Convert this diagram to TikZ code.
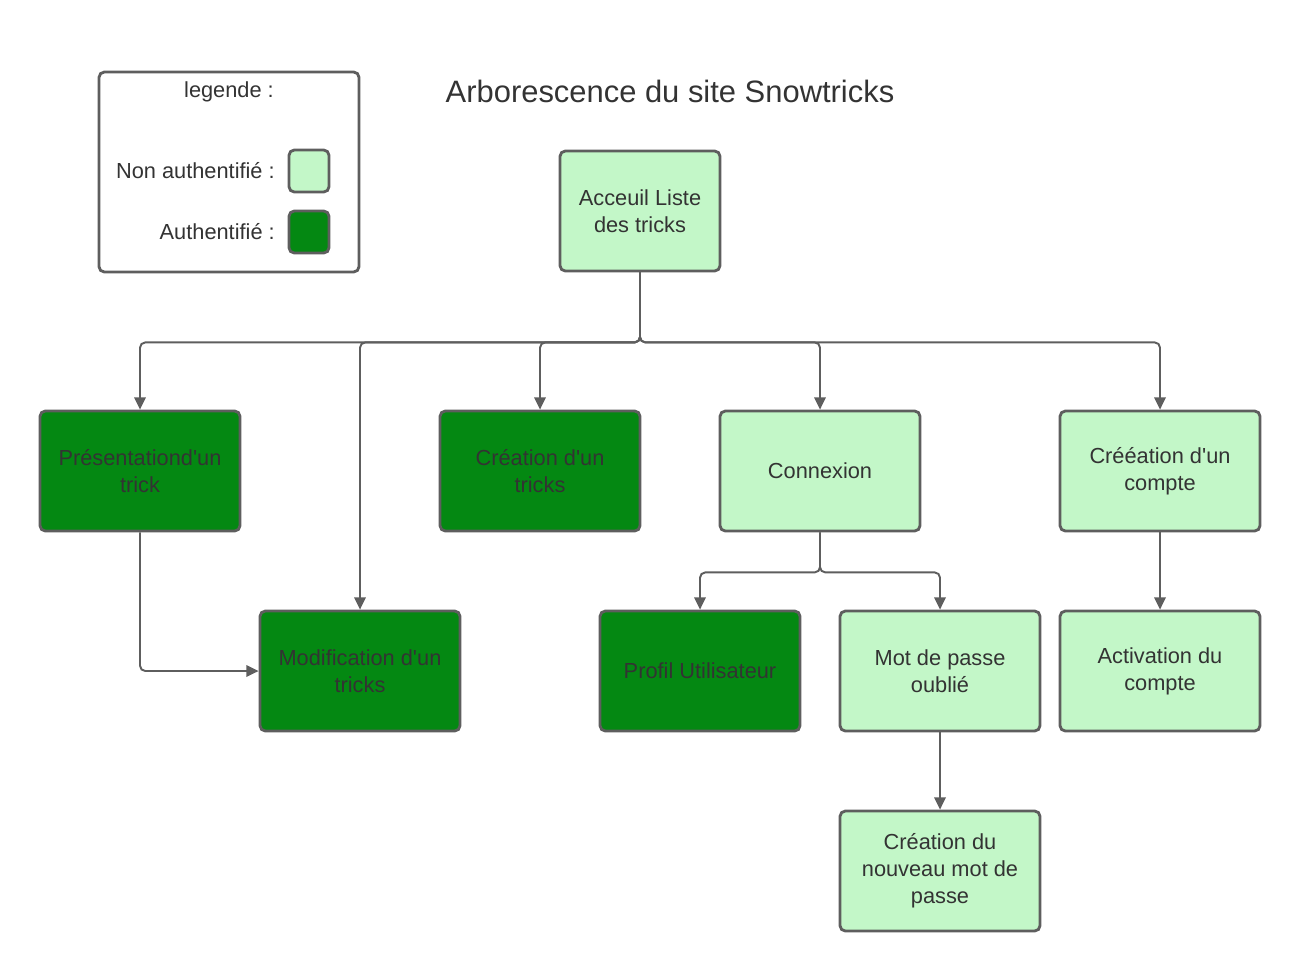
\documentclass[tikz,border=0pt]{standalone}
\usepackage{fontspec}
\setmainfont{Liberation Sans}[Ligatures=TeXOff]
\usetikzlibrary{shapes, arrows.meta, positioning}
\definecolor{authgreen}{RGB}{4,136,18}
\definecolor{publicgreen}{RGB}{195,247,200}
\definecolor{bordergray}{RGB}{94,94,94}
\definecolor{textgray}{RGB}{51,51,51}
\tikzstyle{page} = [rectangle, draw=bordergray, line width=1.6pt, rounded corners=3pt,
    minimum width=4cm, minimum height=2.4cm, align=center, text=textgray,
    font=\fontsize{12.4}{15.4}\selectfont]
\tikzstyle{public} = [page, fill=publicgreen]
\tikzstyle{private} = [page, fill=authgreen]
\tikzstyle{swatch} = [rectangle, draw=bordergray, line width=1.6pt, rounded corners=3pt,
    minimum width=0.8cm, minimum height=0.84cm]
\tikzstyle{legtext} = [text=textgray, font=\fontsize{12.4}{15.4}\selectfont, inner sep=0pt]
\tikzstyle{line} = [draw=bordergray, line width=1.1pt, rounded corners=3pt,
    -{Triangle[length=7pt, width=6.5pt]}]

\begin{document}
\begin{tikzpicture}[x=0.02cm, y=-0.02cm, node distance = 1.6cm]
      \useasboundingbox (0,0) rectangle (1300,971);
      % Legend
      \node [rectangle, draw=bordergray, line width=1.6pt, rounded corners=3pt, fill=white,
        minimum width=5.2cm, minimum height=4cm] (legende) at (229,172) {};
      \node [legtext] (legende-title) at (229,92) {legende :};
      \node [swatch, fill=publicgreen] (swatch-public) at (309,171) {};
      \node [swatch, fill=authgreen] (swatch-private) at (309,232) {};
      \node [legtext, left=0.25cm of swatch-public] (legende-public) {Non authentifié :};
      \node [legtext, left=0.25cm of swatch-private] (legende-private) {Authentifié :};
      % Title
      \node [text=textgray, font=\fontsize{17.6}{21}\selectfont] (title) at (670,91) {Arborescence du site Snowtricks};
      % Pages
      \node [public, minimum width=3.2cm] (accueil) at (640,211) {Acceuil Liste\\des tricks};
      \node [private] (presentation) at (140,471) {Présentationd'un\\trick};
      \node [private] (creation-trick) at (540,471) {Création d'un\\tricks};
      \node [public] (connexion) at (820,471) {Connexion};
      \node [public] (creation-compte) at (1160,471) {Crééation d'un\\compte};
      \node [private] (modification) at (360,671) {Modification d'un\\tricks};
      \node [private] (profil) at (700,671) {Profil Utilisateur};
      \node [public] (oubli) at (940,671) {Mot de passe\\oublié};
      \node [public] (activation) at (1160,671) {Activation du\\compte};
      \node [public] (nouveau-mdp) at (940,871) {Création du\\nouveau mot de\\passe};
      % Draw edges
      \path [line] (accueil.south) -- ++(0,70) -| (presentation.north);
      \path [line] (accueil.south) -- ++(0,70) -| (modification.north);
      \path [line] (accueil.south) -- ++(0,70) -| (creation-trick.north);
      \path [line] (accueil.south) -- ++(0,70) -| (connexion.north);
      \path [line] (accueil.south) -- ++(0,70) -| (creation-compte.north);
      \path [line] (presentation.south) |- (modification.west);
      \path [line] (connexion.south) -- ++(0,40) -| (profil.north);
      \path [line] (connexion.south) -- ++(0,40) -| (oubli.north);
      \path [line] (creation-compte) -- (activation);
      \path [line] (oubli) -- (nouveau-mdp);
    \end{tikzpicture}
\end{document}
